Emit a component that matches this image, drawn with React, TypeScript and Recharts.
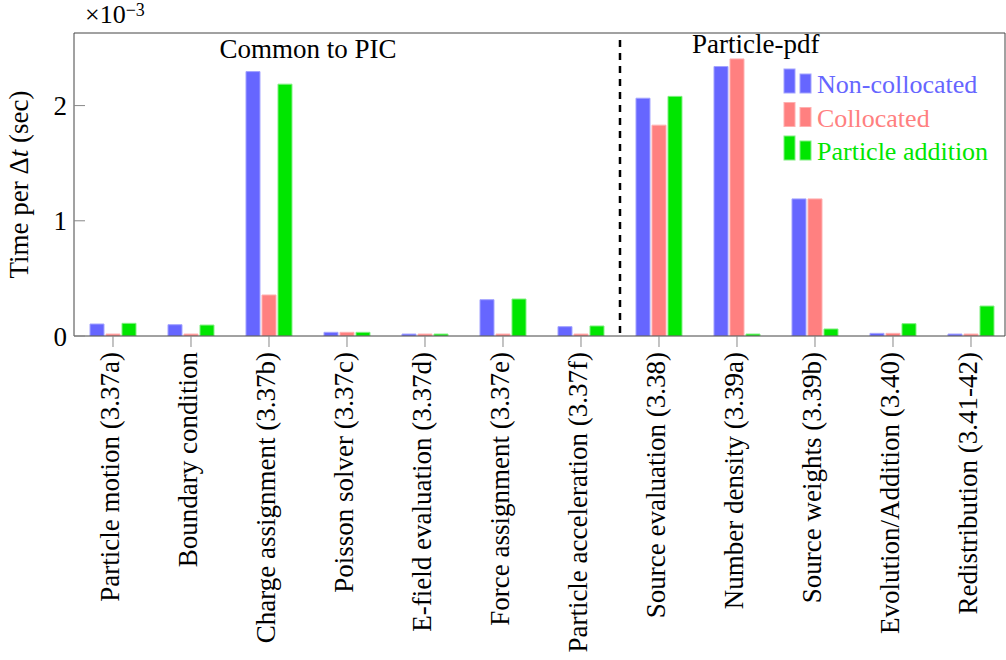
import {
  Bar,
  BarChart,
  Legend,
  ReferenceDot,
  ReferenceLine,
  XAxis,
  YAxis,
} from "recharts";

const FONT = '"Liberation Serif", "DejaVu Serif", serif';

const CATEGORIES = [
  "Particle motion (3.37a)",
  "Boundary condition",
  "Charge assignment (3.37b)",
  "Poisson solver (3.37c)",
  "E-field evaluation (3.37d)",
  "Force assignment (3.37e)",
  "Particle acceleration (3.37f)",
  "Source evaluation (3.38)",
  "Number density (3.39a)",
  "Source weights (3.39b)",
  "Evolution/Addition (3.40)",
  "Redistribution (3.41-42)",
];

// values in units of 1e-3 sec
const NON_COLLOCATED = [0.104, 0.098, 2.295, 0.032, 0.017, 0.315, 0.081, 2.064, 2.339, 1.19, 0.023, 0.017];
const COLLOCATED = [0.017, 0.017, 0.356, 0.032, 0.017, 0.017, 0.017, 1.83, 2.405, 1.19, 0.023, 0.017];
const PARTICLE_ADDITION = [0.11, 0.095, 2.186, 0.032, 0.017, 0.321, 0.087, 2.08, 0.017, 0.061, 0.107, 0.26];

const Y_TICKS = [0, 1, 2];
const X_TICKS = CATEGORIES.map((_, i) => i);

const SERIES = [
  { key: "nonCollocated", name: "Non-collocated", fill: "#6666ff", stroke: "#a3a3ff" },
  { key: "collocated", name: "Collocated", fill: "#ff8080", stroke: "#ffb0b0" },
  { key: "particleAddition", name: "Particle addition", fill: "#00e600", stroke: "#80f080" },
];

const data = CATEGORIES.map((name, i) => ({
  idx: i,
  name,
  nonCollocated: NON_COLLOCATED[i],
  collocated: COLLOCATED[i],
  particleAddition: PARTICLE_ADDITION[i],
}));

const X_DOMAIN = [-0.5, 11.436];
const Y_DOMAIN = [0, 2.63];

function CategoryTick(props: any) {
  const { x, y, payload } = props;
  return (
    <text
      x={x}
      y={y}
      dy={6}
      transform={`rotate(-90, ${x}, ${y})`}
      textAnchor="end"
      fontFamily={FONT}
      fontSize={27}
      fill="#000"
    >
      {CATEGORIES[payload.value]}
    </text>
  );
}

function YLabel(props: any) {
  const vb = props.viewBox || { x: 24, y: 33, height: 303 };
  const x = vb.x + 4;
  const y = vb.y + vb.height / 2;
  return (
    <text
      x={x}
      y={y}
      transform={`rotate(-90, ${x}, ${y})`}
      textAnchor="middle"
      fontFamily={FONT}
      fontSize={27}
      fill="#000"
    >
      Time per Δ<tspan fontStyle="italic">t</tspan> (sec)
    </text>
  );
}

function groupLabel(text: string) {
  return (props: any) => {
    const vb = props.viewBox;
    return (
      <text
        x={vb.x + vb.width / 2}
        y={vb.y + vb.height / 2}
        textAnchor="middle"
        fontFamily={FONT}
        fontSize={27}
        fill="#000"
      >
        {text}
      </text>
    );
  };
}

function LegendContent() {
  return (
    <svg width={226} height={110} style={{ display: "block" }}>
      {SERIES.map((s, i) => {
        const base = 33 + i * 33.5;
        return (
          <g key={s.key}>
            <rect x={4} y={base - 24} width={11} height={24} fill={s.fill} stroke={s.stroke} />
            <rect x={20} y={base - 19} width={11} height={19} fill={s.fill} stroke={s.stroke} />
            <text x={37} y={base} fontFamily={FONT} fontSize={26} fill={s.fill}>
              {s.name}
            </text>
          </g>
        );
      })}
    </svg>
  );
}

export default function App() {
  return (
    <div style={{ position: "absolute", top: 0, left: 0, width: 1006, height: 660, background: "#fff" }}>
      <BarChart
        width={1006}
        height={660}
        data={data}
        margin={{ top: 32, right: 0, left: 24, bottom: 14 }}
        barSize={14}
        barGap={2}
      >
        <XAxis
          xAxisId="b"
          type="number"
          dataKey="idx"
          domain={X_DOMAIN}
          ticks={X_TICKS}
          interval={0}
          allowDataOverflow
          height={310}
          tickSize={11}
          tickMargin={5}
          axisLine={{ stroke: "#444" }}
          tickLine={{ stroke: "#888" }}
          tick={<CategoryTick />}
        />
        <XAxis
          xAxisId="t"
          orientation="top"
          type="number"
          dataKey="idx"
          domain={X_DOMAIN}
          ticks={X_TICKS}
          interval={0}
          allowDataOverflow
          height={1}
          tickSize={11}
          axisLine={{ stroke: "#444" }}
          tickLine={{ stroke: "#888" }}
          tick={false}
        />
        <YAxis
          yAxisId="l"
          type="number"
          domain={Y_DOMAIN}
          ticks={Y_TICKS}
          allowDataOverflow
          width={50}
          tickSize={-11}
          tickMargin={18}
          axisLine={{ stroke: "#444" }}
          tickLine={{ stroke: "#888" }}
          tick={{ fontFamily: FONT, fontSize: 27, fill: "#000" }}
          label={YLabel}
        />
        <YAxis
          yAxisId="r"
          orientation="right"
          type="number"
          domain={Y_DOMAIN}
          ticks={Y_TICKS}
          allowDataOverflow
          width={1}
          tickSize={-6}
          axisLine={{ stroke: "#444" }}
          tickLine={{ stroke: "#888" }}
          tick={false}
        />
        <Legend
          layout="vertical"
          align="center"
          verticalAlign="middle"
          content={<LegendContent />}
          wrapperStyle={{ top: 60, left: 780, width: 226 }}
        />
        {SERIES.map((s) => (
          <Bar
            key={s.key}
            dataKey={s.key}
            name={s.name}
            xAxisId="b"
            yAxisId="l"
            fill={s.fill}
            stroke={s.stroke}
            strokeWidth={1}
            isAnimationActive={false}
          />
        ))}
        <ReferenceLine
          xAxisId="b"
          yAxisId="l"
          segment={[
            { x: 6.5, y: 0.026 },
            { x: 6.5, y: 2.588 },
          ]}
          stroke="#000"
          strokeWidth={2.5}
          strokeDasharray="7 6"
        />
        <ReferenceDot
          xAxisId="b"
          yAxisId="l"
          x={2.5}
          y={2.414}
          r={1}
          fill="none"
          stroke="none"
          label={groupLabel("Common to PIC")}
        />
        <ReferenceDot
          xAxisId="b"
          yAxisId="l"
          x={8.24}
          y={2.453}
          r={1}
          fill="none"
          stroke="none"
          label={groupLabel("Particle-pdf")}
        />
      </BarChart>
      <svg
        width={200}
        height={32}
        style={{ position: "absolute", top: 0, left: 0, pointerEvents: "none" }}
      >
        <text x={85} y={23} fontFamily={FONT} fontSize={26} fill="#000">
          ×10
          <tspan fontSize={18} dy={-7}>
            −3
          </tspan>
        </text>
      </svg>
    </div>
  );
}
